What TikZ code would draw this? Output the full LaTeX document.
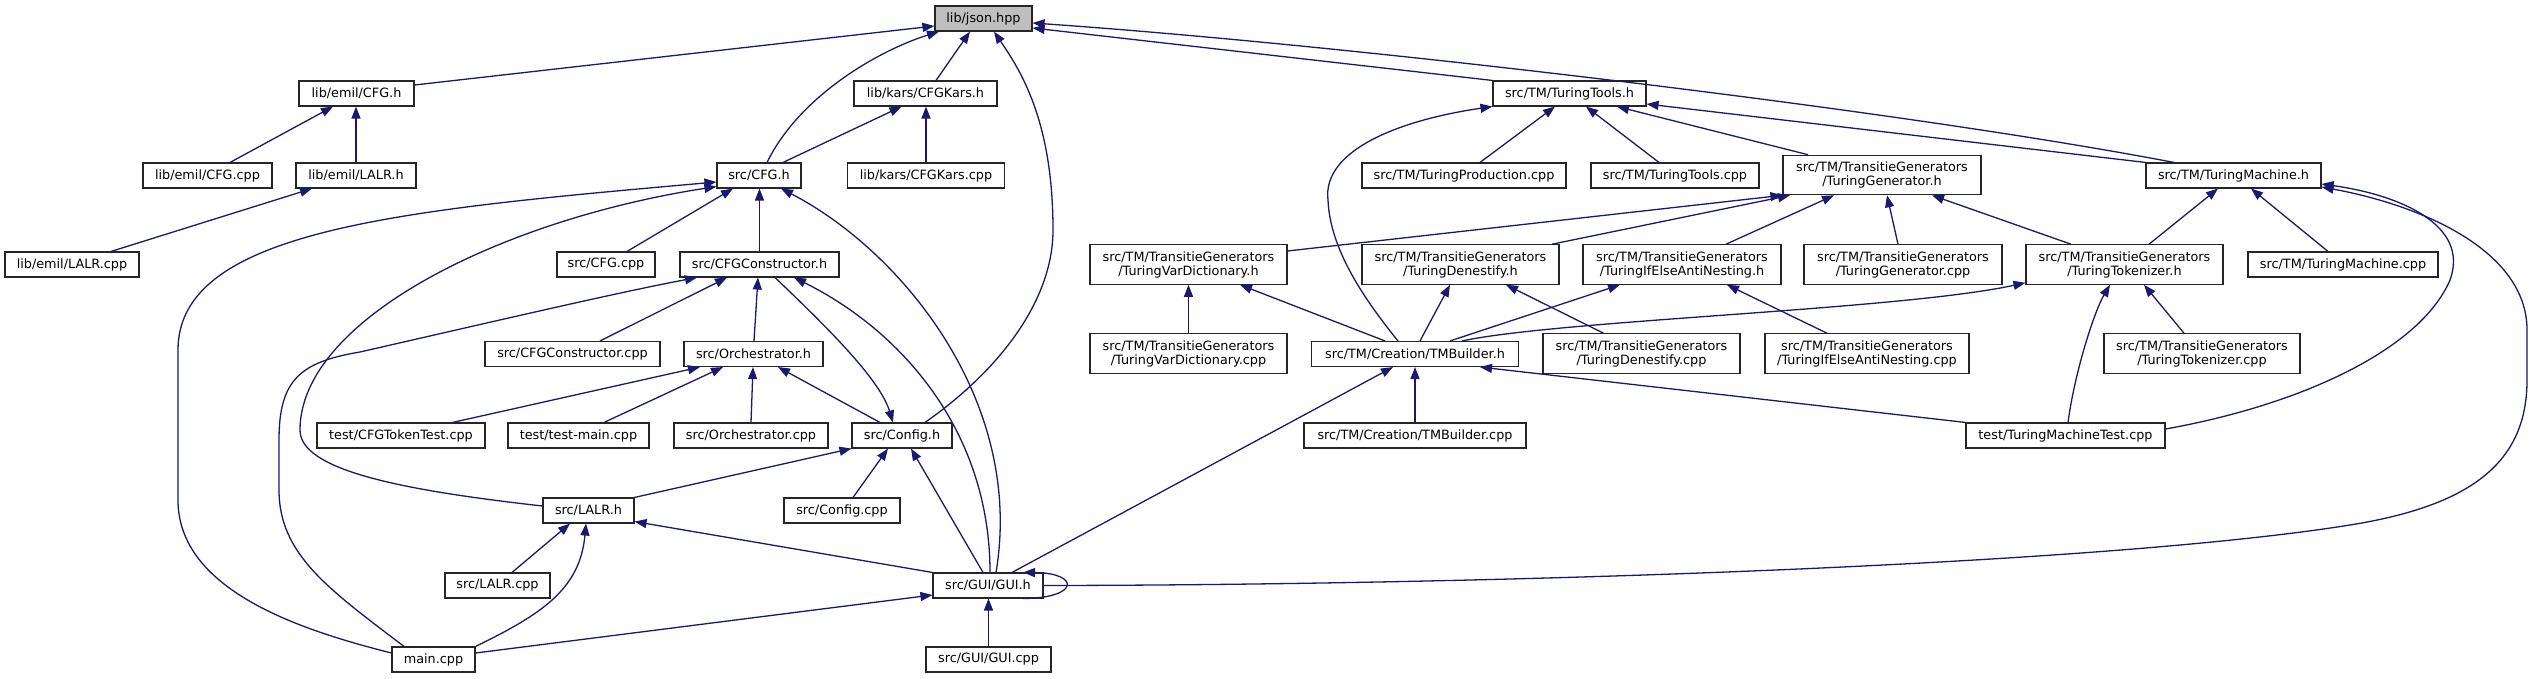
\documentclass[tikz,border=0pt]{standalone}
\usepackage{fontspec}
\setmainfont{DejaVu Sans}
\usetikzlibrary{arrows.meta}
\definecolor{edgeblue}{HTML}{191970}
\begin{document}
\begin{tikzpicture}[x=1pt,y=-1pt,
  box/.style={draw=black!85, line width=1.1pt, fill=white, inner sep=0pt, minimum height=25pt, font=\fontsize{12.8}{14}\selectfont, align=center},
  box2/.style={box, minimum height=39.5pt},
  edge/.style={draw=edgeblue, line width=1.3pt, -{Triangle[length=12pt,width=9pt]}, fill=none}]
\fill[white] (0,0) rectangle (2533,679);
\useasboundingbox (0,0) rectangle (2533,679);
% nodes
\node[box,fill=black!25,minimum width=97pt] (json) at (983.5,18.5) {lib/json.hpp};
\node[box,minimum width=115pt] (emilcfgh) at (356.5,93.5) {lib/emil/CFG.h};
\node[box,minimum width=129pt] (emilcfgcpp) at (207.5,175.5) {lib/emil/CFG.cpp};
\node[box,minimum width=120pt] (emillalrh) at (356,175.5) {lib/emil/LALR.h};
\node[box,minimum width=134pt] (emillalrcpp) at (72,264.5) {lib/emil/LALR.cpp};
\node[box,minimum width=84pt] (srccfgh) at (759,175.5) {src/CFG.h};
\node[box,minimum width=98pt] (srccfgcpp) at (606,264.5) {src/CFG.cpp};
\node[box,minimum width=159pt] (cfgconh) at (759.5,264.5) {src/CFGConstructor.h};
\node[box,minimum width=175pt] (cfgconcpp) at (572.5,354) {src/CFGConstructor.cpp};
\node[box,minimum width=139pt] (orchh) at (753.5,354) {src/Orchestrator.h};
\node[box,minimum width=168pt] (cfgtoken) at (401,435.5) {test/CFGTokenTest.cpp};
\node[box,minimum width=141pt] (testmain) at (578.5,435.5) {test/test-main.cpp};
\node[box,minimum width=154pt] (orchcpp) at (751,435.5) {src/Orchestrator.cpp};
\node[box,minimum width=100pt] (configh) at (902,435.5) {src/Config.h};
\node[box,minimum width=91pt] (lalrh) at (588.5,510.5) {src/LALR.h};
\node[box,minimum width=116pt] (configcpp) at (842,510.5) {src/Config.cpp};
\node[box,minimum width=105pt] (lalrcpp) at (497.5,585.5) {src/LALR.cpp};
\node[box,minimum width=110pt] (guih) at (988,585.5) {src/GUI/GUI.h};
\node[box,minimum width=83pt] (maincpp) at (433.5,659.5) {main.cpp};
\node[box,minimum width=125pt] (guicpp) at (988.5,659.5) {src/GUI/GUI.cpp};
\node[box,minimum width=143pt] (cfgkarsh) at (925.5,93.5) {lib/kars/CFGKars.h};
\node[box,minimum width=157pt] (cfgkarscpp) at (926,175.5) {lib/kars/CFGKars.cpp};
\node[box,minimum width=153pt] (ttoolsh) at (1569.5,93.5) {src/TM/TuringTools.h};
\node[box,minimum width=204pt] (tprodcpp) at (1464,175.5) {src/TM/TuringProduction.cpp};
\node[box,minimum width=168pt] (ttoolscpp) at (1675,175.5) {src/TM/TuringTools.cpp};
\node[box2,minimum width=197pt] (vardicth) at (1188.5,264.5) {src/TM/TransitieGenerators\\/TuringVarDictionary.h};
\node[box2,minimum width=197pt] (denesth) at (1460.5,264.5) {src/TM/TransitieGenerators\\/TuringDenestify.h};
\node[box2,minimum width=198pt] (ifelseh) at (1682,264.5) {src/TM/TransitieGenerators\\/TuringIfElseAntiNesting.h};
\node[box2,minimum width=198pt] (genh) at (1882,175) {src/TM/TransitieGenerators\\/TuringGenerator.h};
\node[box2,minimum width=198pt] (gencpp) at (1903,264.5) {src/TM/TransitieGenerators\\/TuringGenerator.cpp};
\node[box2,minimum width=197pt] (tokh) at (2124.5,264.5) {src/TM/TransitieGenerators\\/TuringTokenizer.h};
\node[box,minimum width=175pt] (tmh) at (2233.5,175.5) {src/TM/TuringMachine.h};
\node[box,minimum width=190pt] (tmcpp) at (2343,264.5) {src/TM/TuringMachine.cpp};
\node[box2,minimum width=197pt] (vardictcpp) at (1188.5,353.5) {src/TM/TransitieGenerators\\/TuringVarDictionary.cpp};
\node[box,minimum width=207pt] (tmbh) at (1415,354) {src/TM/Creation/TMBuilder.h};
\node[box2,minimum width=197pt] (denestcpp) at (1641.5,353.5) {src/TM/TransitieGenerators\\/TuringDenestify.cpp};
\node[box2,minimum width=204pt] (ifelsecpp) at (1867,353.5) {src/TM/TransitieGenerators\\/TuringIfElseAntiNesting.cpp};
\node[box2,minimum width=196pt] (tokcpp) at (2202,353.5) {src/TM/TransitieGenerators\\/TuringTokenizer.cpp};
\node[box,minimum width=222pt] (tmbcpp) at (1415,435.5) {src/TM/Creation/TMBuilder.cpp};
\node[box,minimum width=199pt] (tmtest) at (2065.5,435.5) {test/TuringMachineTest.cpp};
% edges to lib/json.hpp
\draw[edge] ([yshift=8.5pt]emilcfgh.east) -- ([yshift=-7.5pt]json.west);
\draw[edge] ([xshift=8pt]srccfgh.north) .. controls (800,95) and (880,50) .. ([xshift=-44.5pt]json.south);
\draw[edge] ([xshift=10.5pt]cfgkarsh.north) -- ([xshift=-13.5pt]json.south);
\draw[edge] ([xshift=23pt]configh.north) .. controls (1000,370) and (1053,300) .. (1053,230) .. controls (1053,120) and (1020,70) .. ([xshift=10.5pt]json.south);
\draw[edge] (ttoolsh.north west) -- ([yshift=-9.5pt]json.east);
\draw[edge] ([xshift=-59.5pt]tmh.north) .. controls (1900,110) and (1350,45) .. ([yshift=-4.5pt]json.east);
% lib part
\draw[edge] ([xshift=22.5pt]emilcfgcpp.north) -- ([xshift=-23.5pt]emilcfgh.south);
\draw[edge] (emillalrh.north) -- (emillalrh.north |- emilcfgh.south);
\draw[edge] ([xshift=39pt]emillalrcpp.north) -- ([xshift=-44pt]emillalrh.south);
\draw[edge] ([xshift=24pt]srccfgh.north) -- ([xshift=-24pt]cfgkarsh.south);
\draw[edge] (cfgkarscpp.north) -- (cfgkarscpp.north |- cfgkarsh.south);
% src/CFG.h
\draw[edge] ([yshift=6.5pt]maincpp.west) .. controls (300,630) and (178,590) .. (178,500) -- (178,350) .. controls (178,230) and (400,210) .. ([yshift=-6.5pt]srccfgh.west);
\draw[edge] ([yshift=4.5pt]lalrh.west) .. controls (400,490) and (300,470) .. (300,430) .. controls (300,320) and (500,220) .. ([yshift=2pt]srccfgh.south west);
\draw[edge] ([xshift=21pt]srccfgcpp.north) -- ([xshift=-26pt]srccfgh.south);
\draw[edge] (cfgconh.north) -- (cfgconh.north |- srccfgh.south);
\draw[edge] ([xshift=8pt]guih.north) .. controls (1025,400) and (900,250) .. ([xshift=22pt]srccfgh.south);
% src/CFGConstructor.h
\draw[edge] ([xshift=-29.5pt]maincpp.north) .. controls (330,590) and (279,555) .. (279,490) -- (279,440) .. controls (279,380) and (300,362) .. (360,352) .. controls (500,320) and (620,292) .. ([xshift=-62.5pt]cfgconh.south);
\draw[edge] ([xshift=27.5pt]cfgconcpp.north) -- ([xshift=-32.5pt]cfgconh.south);
\draw[edge] ([xshift=0.5pt]orchh.north) -- ([xshift=-1.5pt]cfgconh.south);
\draw[edge] ([xshift=15.5pt]cfgconh.south) .. controls (830,330) and (880,380) .. ([xshift=-9pt]configh.north);
\draw[edge] ([xshift=2pt]guih.north) .. controls (990,430) and (900,330) .. ([xshift=34.5pt]cfgconh.south);
% src/Orchestrator.h
\draw[edge] ([xshift=51.5pt]cfgtoken.north) -- ([xshift=-53.5pt]orchh.south);
\draw[edge] ([xshift=25.5pt]testmain.north) -- ([xshift=-30.5pt]orchh.south);
\draw[edge] (orchcpp.north) -- ([xshift=-0.5pt]orchh.south);
\draw[edge] ([xshift=-22pt]configh.north) -- ([xshift=24.5pt]orchh.south);
% src/Config.h
\draw[edge] (lalrh.north east) -- (configh.south west);
\draw[edge] ([xshift=11pt]configcpp.north) -- ([xshift=-14pt]configh.south);
\draw[edge] ([xshift=-5pt]guih.north) -- ([xshift=9pt]configh.south);
% src/LALR.h
\draw[edge] ([xshift=14.5pt]lalrcpp.north) -- ([xshift=-18.5pt]lalrh.south);
\draw[edge] (maincpp.north east) .. controls (540,615) and (580,590) .. ([xshift=-2.5pt]lalrh.south);
\draw[edge] (guih.north west) -- ([yshift=2pt]lalrh.south east);
% src/GUI/GUI.h
\draw[edge] ([yshift=6.5pt]maincpp.east) -- ([yshift=-9.5pt]guih.west);
\draw[edge] (guicpp.north) -- (guicpp.north |- guih.south);
\draw[edge] ([xshift=24pt]guih.north) -- ([xshift=-22pt]tmbh.south);
\draw[edge] (guih.east) .. controls (1500,585) and (2100,565) .. (2350,525) .. controls (2475,505) and (2527,460) .. (2527,380) -- (2527,330) .. controls (2527,250) and (2420,205) .. ([yshift=-11.5pt]tmh.east);
\draw[edge] ([xshift=35pt]guih.south) .. controls (1080,598) and (1080,573) .. ([xshift=35pt]guih.north);
% TMBuilder.h
\draw[edge] (tmbcpp.north) -- (tmbcpp.north |- tmbh.south);
\draw[edge] (tmtest.north west) -- ([xshift=65pt]tmbh.south);
\draw[edge] ([xshift=-17pt]tmbh.north) .. controls (1365,300) and (1330,250) .. (1328,200) .. controls (1322,150) and (1400,120) .. (ttoolsh.south west);
\draw[edge] ([xshift=-30pt]tmbh.north) -- ([xshift=51.5pt]vardicth.south);
\draw[edge] ([xshift=5pt]tmbh.north) -- ([xshift=-10.5pt]denesth.south);
\draw[edge] ([xshift=35pt]tmbh.north) -- ([xshift=-62pt]ifelseh.south);
\draw[edge] ([xshift=47pt]tmbh.north) .. controls (1560,320) and (1900,310) .. ([yshift=2pt]tokh.south west);
% generators
\draw[edge] (vardictcpp.north) -- (vardictcpp.north |- vardicth.south);
\draw[edge] ([xshift=-38pt]denestcpp.north) -- ([xshift=45.5pt]denesth.south);
\draw[edge] ([xshift=-40pt]ifelsecpp.north) -- ([xshift=45pt]ifelseh.south);
\draw[edge] ([xshift=-18pt]tokcpp.north) -- ([xshift=19.5pt]tokh.south);
\draw[edge] ([xshift=2.5pt]tmtest.north) .. controls (2075,370) and (2095,310) .. ([xshift=-14.5pt]tokh.south);
\draw[edge] ([yshift=6.5pt]tmtest.east) .. controls (2300,405) and (2420,350) .. (2450,280) .. controls (2470,225) and (2400,195) .. ([yshift=-8.5pt]tmh.east);
\draw[edge] ([xshift=24.5pt]tokh.north) -- ([xshift=-15.5pt]tmh.south);
\draw[edge] ([xshift=-15pt]tmcpp.north) -- ([xshift=17.5pt]tmh.south);
\draw[edge] (tmh.north west) -- ([yshift=-10.5pt]ttoolsh.east);
\draw[edge] ([xshift=-74pt]genh.north) -- ([xshift=47.5pt]ttoolsh.south);
\draw[edge] ([xshift=16pt]tprodcpp.north) -- ([xshift=-14.5pt]ttoolsh.south);
\draw[edge] ([xshift=-16pt]ttoolscpp.north) -- ([xshift=16.5pt]ttoolsh.south);
\draw[edge] ([yshift=13.5pt]vardicth.east) -- (genh.south west);
\draw[edge] ([xshift=91.5pt]denesth.north) -- ([xshift=-92pt]genh.south);
\draw[edge] ([xshift=44pt]ifelseh.north) -- ([xshift=-48pt]genh.south);
\draw[edge] ([xshift=-5pt]gencpp.north) -- ([xshift=5pt]genh.south);
\draw[edge] ([xshift=-53.5pt]tokh.north) -- ([xshift=50pt]genh.south);
\end{tikzpicture}
\end{document}
